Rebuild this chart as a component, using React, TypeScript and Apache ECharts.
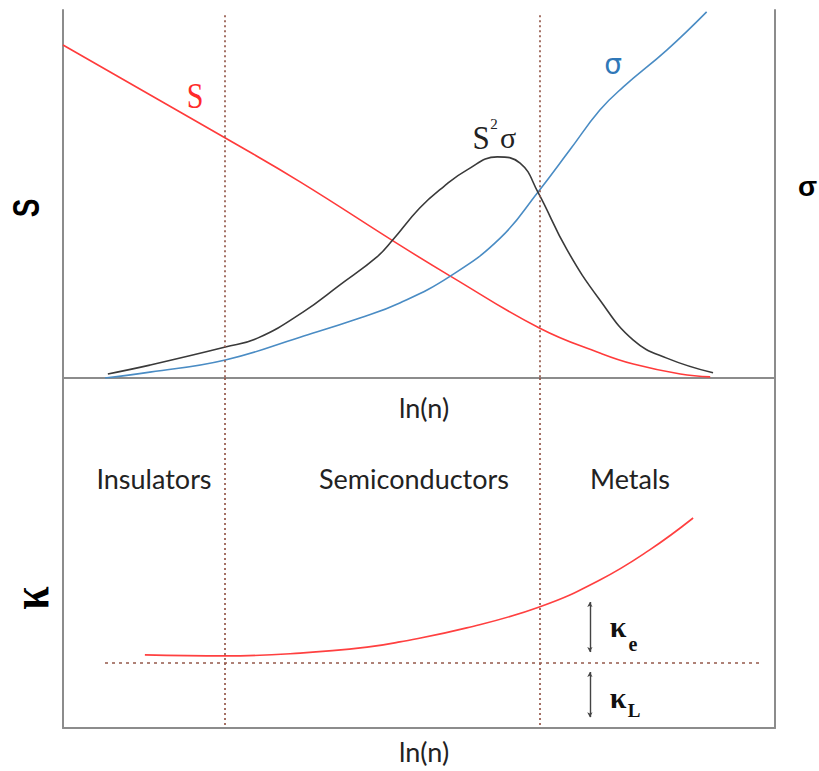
import React, { useEffect, useRef } from "react";
import * as echarts from "echarts";

// ln(n) positions on a 0–100 scale; values are relative magnitudes (0–100)
const seebeckX = [0, 22.8, 33.3, 47.3, 54.4, 66.9, 75.4, 80.1, 86.7, 90.9];
const seebeckY = [90.5, 65.2, 53.3, 36.1, 27.7, 13.6, 6.8, 3.8, 1.1, 0.3];

const sigmaX = [5.9, 12.2, 22.8, 33.3, 41.7, 47.3, 54.4, 61.4, 66.7, 71.2, 75.4, 78.7, 84.8, 90.4];
const sigmaY = [0, 1.6, 4.9, 11.1, 16.3, 20.4, 27.7, 38.0, 50.5, 62.0, 72.8, 79.1, 89.1, 99.5];

const powerX = [6.3, 12.2, 22.8, 27.4, 33.7, 38.9, 44.1, 46.3, 50.1, 53.4, 56.7, 61.0, 64.2, 66.7, 70.8, 75.4, 80.1, 84.8, 91.3];
const powerY = [1.1, 3.5, 8.4, 10.9, 17.9, 25.3, 32.9, 37.5, 46.2, 51.9, 56.5, 60.1, 58.4, 50.5, 34.8, 21.2, 10.3, 5.4, 1.4];

const kappaX = [11.5, 22.8, 33.3, 42.7, 47.3, 56.7, 66.9, 75.4, 82.4, 88.5];
const kappaY = [20.9, 20.6, 21.4, 23.1, 24.6, 28.6, 34.6, 42.3, 50.9, 60.0];

// insulator | semiconductor | metal boundaries
const regionBounds = [22.75, 67.0];
const regionNames = ["Insulators", "Semiconductors", "Metals"];
const regionCenters = [154, 414, 630];

// lattice contribution level and its extent
const kappaLattice = 18.6;
const latticeSpan = [5.9, 98.2];
// κe / κL arrows
const arrowX = 74.0;
const kappaEArrow = [21.7, 36.0];
const kappaLArrow = [3.1, 16.0];

const zip = (xs: number[], ys: number[]) => xs.map((x, i) => [x, ys[i]]);

const AXIS = { show: true, onZero: false, lineStyle: { color: "#8c8c8c", width: 2 } };
const DIVIDER = { color: "#94584a", width: 1.7, type: [2, 3] as any };
const SMOOTH = 0.45;

export default function App() {
  const ref = useRef<HTMLDivElement>(null);

  useEffect(() => {
    if (!ref.current) return;
    const chart = echarts.init(ref.current, null, { renderer: "svg" });

    const hiddenAxis = {
      type: "value" as const,
      min: 0,
      max: 100,
      axisLine: AXIS,
      axisTick: { show: false },
      axisLabel: { show: false },
      splitLine: { show: false },
    };

    const txt = (
      text: string,
      x: number,
      y: number,
      font: string,
      fill: string,
      extra: any = {}
    ) => ({
      type: "text",
      x,
      y,
      silent: true,
      ...extra,
      style: {
        text,
        font,
        fill,
        align: extra.align || "center",
        verticalAlign: "middle",
      },
    });

    const curve = (name: string, xs: number[], ys: number[], color: string, gi: number) => ({
      type: "line",
      name,
      xAxisIndex: gi,
      yAxisIndex: gi * 2,
      data: zip(xs, ys),
      showSymbol: false,
      smooth: SMOOTH,
      lineStyle: { color, width: 1.6 },
    });

    chart.setOption({
      animation: false,
      backgroundColor: "#ffffff",
      grid: [
        { left: 63, top: 10, width: 712, height: 368 },
        { left: 63, top: 378, width: 712, height: 350 },
      ],
      xAxis: [
        { ...hiddenAxis, gridIndex: 0 },
        { ...hiddenAxis, gridIndex: 1 },
      ],
      yAxis: [
        { ...hiddenAxis, gridIndex: 0, position: "left" },
        { ...hiddenAxis, gridIndex: 0, position: "right" },
        { ...hiddenAxis, gridIndex: 1, position: "left" },
        { ...hiddenAxis, gridIndex: 1, position: "right" },
      ],
      series: [
        {
          ...curve("S", seebeckX, seebeckY, "#ff3b3b", 0),
          markLine: {
            silent: true,
            symbol: ["none", "none"],
            label: { show: false },
            lineStyle: DIVIDER,
            data: regionBounds.map((b) => [{ coord: [b, 98.6] }, { coord: [b, 0] }]),
          },
        },
        curve("σ", sigmaX, sigmaY, "#4a8cc4", 0),
        curve("S²σ", powerX, powerY, "#3a3a3a", 0),
        {
          ...curve("κ", kappaX, kappaY, "#ff4040", 1),
          markLine: {
            silent: true,
            symbol: ["none", "none"],
            label: { show: false },
            lineStyle: DIVIDER,
            data: [
              ...regionBounds.map((b) => [{ coord: [b, 100] }, { coord: [b, 0] }]),
              [
                { coord: [latticeSpan[0], kappaLattice], lineStyle: { ...DIVIDER, type: [3, 4] } },
                { coord: [latticeSpan[1], kappaLattice] },
              ],
              ...[kappaEArrow, kappaLArrow].map((a) => [
                {
                  coord: [arrowX, a[0]],
                  symbol: "arrow",
                  symbolSize: [4, 5],
                  lineStyle: { color: "#444444", width: 1.4, type: "solid" },
                },
                { coord: [arrowX, a[1]], symbol: "arrow", symbolSize: [4, 5] },
              ]),
            ],
          },
        },
      ],
      graphic: [
        // curve labels
        txt("S", 195, 96, "30px 'Liberation Serif'", "#ff2a2a", { scaleY: 1.2 }),
        txt("σ", 613, 64, "28px 'DejaVu Sans'", "#2f78b8"),
        txt("S", 481, 137, "31px 'Liberation Serif'", "#222222", { scaleY: 1.12 }),
        txt("2", 494, 124, "15px 'Liberation Serif'", "#222222"),
        txt("σ", 508, 137, "30px 'Liberation Serif'", "#222222"),
        // axis titles
        txt("S", 27, 208, "bold 28px 'Liberation Sans'", "#000000", { rotation: Math.PI / 2, scaleY: 1.3 }),
        txt("σ", 798, 186, "bold 28px 'Liberation Sans'", "#000000", { align: "left" }),
        txt("κ", 30, 598, "bold 42px 'Liberation Serif'", "#000000", { rotation: Math.PI / 2, scaleY: 1.25 }),
        txt("ln(n)", 424, 407, "27px Lato", "#222222"),
        txt("ln(n)", 424, 751, "27px Lato", "#222222"),
        // regions
        ...regionNames.map((n, i) => txt(n, regionCenters[i], 478, "27px Lato", "#222222")),
        // κe / κL
        txt("κ", 618, 626, "bold 30px 'Liberation Serif'", "#111111"),
        txt("e", 633, 644, "bold 20px 'Liberation Serif'", "#111111"),
        txt("κ", 618, 697, "bold 30px 'Liberation Serif'", "#111111"),
        txt("L", 634, 710, "bold 19px 'Liberation Serif'", "#111111"),
      ],
    });

    return () => chart.dispose();
  }, []);

  return (
    <div
      ref={ref}
      style={{ position: "fixed", left: 0, top: 0, width: 819, height: 771 }}
    />
  );
}
